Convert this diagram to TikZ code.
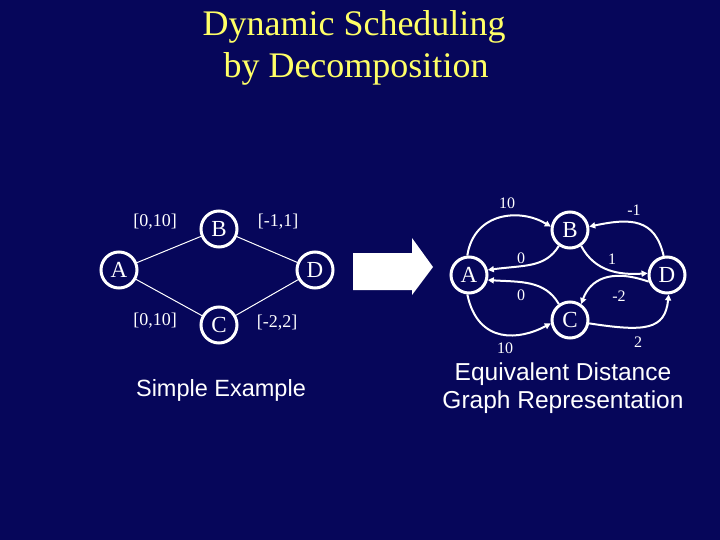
\documentclass[tikz,border=0pt]{standalone}
\usepackage{fontspec}
\setmainfont{Liberation Serif}
\setsansfont{Liberation Sans}
\usetikzlibrary{arrows.meta}
\definecolor{bgnavy}{RGB}{6,6,90}
\definecolor{titleyellow}{RGB}{255,255,102}
\tikzset{
  vert/.style={circle,draw=white,line width=3pt,fill=bgnavy,minimum size=36pt,inner sep=0pt,text=white,font=\fontsize{23}{25}\selectfont},
  ledge/.style={draw=white,line width=1pt},
  redge/.style={draw=white,line width=2pt,-{Triangle[length=6pt,width=6pt]}},
  llab/.style={text=white,font=\fontsize{18}{20}\selectfont},
  rlab/.style={text=white,font=\fontsize{16}{18}\selectfont},
  caption/.style={text=white,font=\sffamily\fontsize{24.5}{28}\selectfont,align=center},
  titletext/.style={text=titleyellow,font=\fontsize{36}{42}\selectfont,align=center}
}
\begin{document}
\begin{tikzpicture}[x=1pt,y=-1pt]
\useasboundingbox (0,0) rectangle (720,540);
\fill[bgnavy] (0,0) rectangle (720,540);
% title
\node[titletext] (t1) at (354,27) {Dynamic Scheduling};
\node[titletext] (t2) at (356,69) {by Decomposition};
% left graph
\node[vert] (lA) at (119,270) {A};
\node[vert] (lB) at (219,229) {B};
\node[vert] (lC) at (219,325) {C};
\node[vert] (lD) at (315,270) {D};
\draw[ledge] (lA) -- (lB);
\draw[ledge] (lA) -- (lC);
\draw[ledge] (lB) -- (lD);
\draw[ledge] (lC) -- (lD);
\node[llab] (l1) at (155,222) {[0,10]};
\node[llab] (l2) at (278,222) {[-1,1]};
\node[llab] (l3) at (155,321) {[0,10]};
\node[llab] (l4) at (277,323) {[-2,2]};
\node[caption,font=\sffamily\fontsize{23.5}{28}\selectfont] (c1) at (221,390) {Simple Example};
% big arrow
\fill[white] (353,253) -- (412,253) -- (412,238) -- (433,267) -- (412,295) -- (412,290) -- (353,290) -- cycle;
% right graph
\node[vert] (A) at (469,275) {A};
\node[vert] (B) at (570,230) {B};
\node[vert] (C) at (570,320) {C};
\node[vert] (D) at (667,275) {D};
\draw[redge] (A.95) .. controls (474,212) and (520,208) .. (B.170);
\draw[redge] (A.265) .. controls (478,345) and (520,340) .. (C.190);
\draw[redge] (B.235) .. controls (545,268) and (525,265) .. (A.15);
\draw[redge] (C.125) .. controls (545,280) and (520,282) .. (A.-15);
\draw[redge] (B.-55) .. controls (595,272) and (620,275) .. (D.175);
\draw[redge] (D.100) .. controls (655,218) and (630,218) .. (B.10);
\draw[redge] (D.200) .. controls (610,268) and (590,280) .. (C.55);
\draw[redge] (C.-10) .. controls (645,332) and (665,330) .. (D.-85);
\node[rlab] (r1) at (507,203) {10};
\node[rlab] (r2) at (505,348) {10};
\node[rlab] (r3) at (521,258) {0};
\node[rlab] (r4) at (521,295) {0};
\node[rlab] (r5) at (612,259) {1};
\node[rlab] (r6) at (634,210) {-1};
\node[rlab] (r7) at (619,296) {-2};
\node[rlab] (r8) at (638,342) {2};
\node[caption] (c2) at (563,388) {Equivalent Distance\\Graph Representation};
\end{tikzpicture}
\end{document}
